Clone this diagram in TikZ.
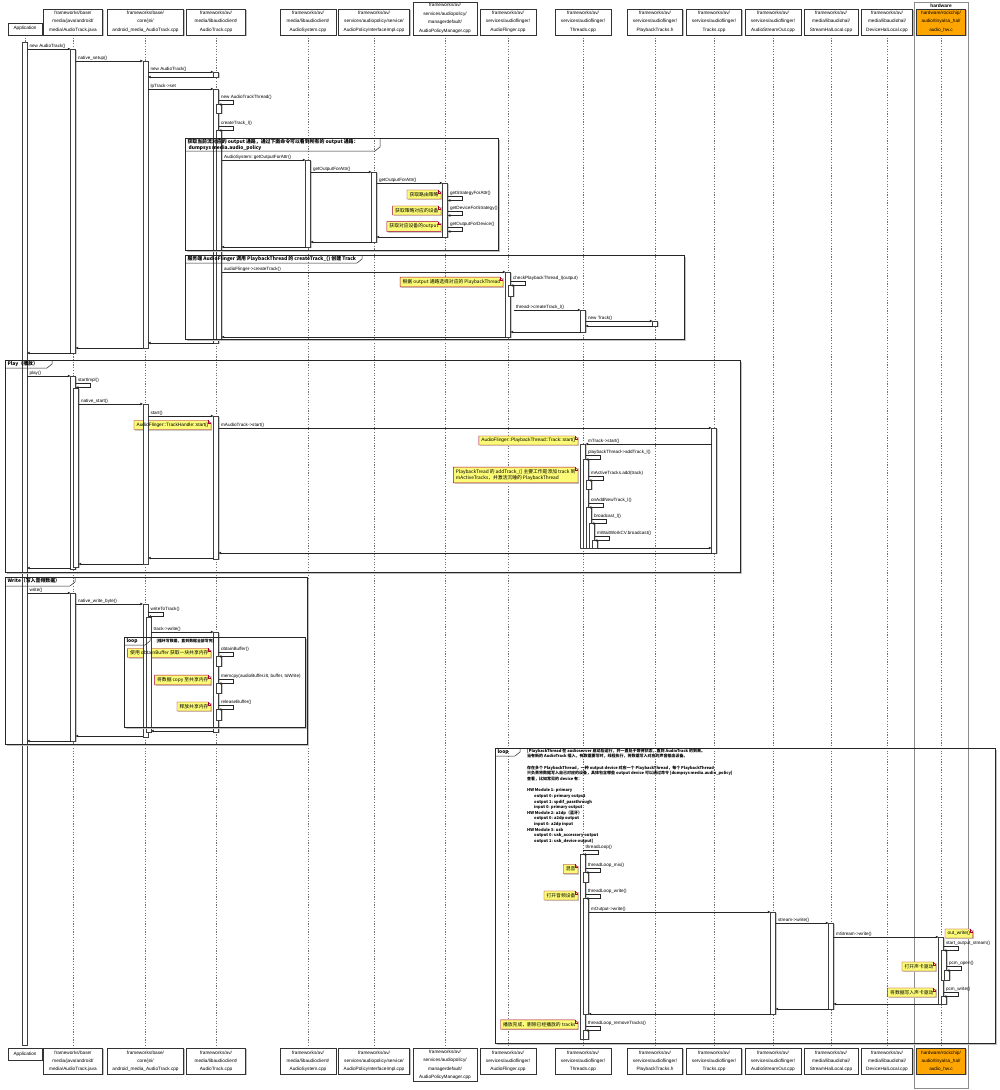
\documentclass[tikz,border=0pt]{standalone}
\usepackage{fontspec}
\setmainfont{Liberation Sans}
\newfontfamily\cjk{Noto Sans CJK SC}
\usetikzlibrary{arrows.meta,shadows}
\definecolor{noteY}{HTML}{FBFB77}
\definecolor{noteB}{HTML}{A80036}
\definecolor{hwO}{HTML}{FFA500}
\pgfdeclarelayer{back}
\pgfdeclarelayer{notebg}
\pgfsetlayers{back,notebg,main}
\newcommand\sqpart[6][]{%
  \node[hdr,#1,minimum width=#4pt,minimum height=#5pt,anchor=south] (h#2) at (#3,35) {#6};
  \node[hdr,#1,minimum width=#4pt,minimum height=#5pt,anchor=north] (f#2) at (#3,1048) {#6};
  \begin{pgfonlayer}{back}\draw[lifeline] (h#2.south) -- (f#2.north);\end{pgfonlayer}}
\newcommand\sqact[3]{%
  \fill[gray!40] (#1-1.5,#2+1) rectangle (#1+3.5,#3+1);
  \draw[actst] (#1-2.5,#2) rectangle (#1+2.5,#3);}
\newcommand\sqmsg[4]{%
  \draw[msgst] (#1,#3) -- (#2,#3);
  \node[lbl] at ({min(#1,#2)+2},#3) {#4};}
\newcommand\sqret[3]{\draw[msgst] (#1,#3) -- (#2,#3);}
\newcommand\sqself[3]{%
  \draw[msgst] (#1,#2) -- (#1+15,#2) -- (#1+15,#2+4.5) -- (#1+0.3,#2+4.5);
  \node[lbl] at (#1+2,#2) {#3};}
\newcommand\sqnote[4]{%
  \node[notetxt,anchor=#2] (#1) at (#3) {#4};
  \begin{pgfonlayer}{notebg}
  \fill[gray!40] ([shift={(1.2pt,-1.2pt)}]#1.south west) rectangle ([shift={(1.2pt,-1.2pt)}]#1.north east);
  \draw[notest] (#1.south west) -- (#1.north west) -- ([xshift=-3pt]#1.north east) -- ([yshift=-3pt]#1.north east) -- (#1.south east) -- cycle;
  \draw[notefold] ([xshift=-3pt]#1.north east) -- ([xshift=-3pt,yshift=-3pt]#1.north east) -- ([yshift=-3pt]#1.north east);
  \end{pgfonlayer}}
\newcommand\sqgrp[8]{%
  \draw[gray!50, line width=1.2pt] (#2+2,#5+1.4) -- (#4+1.4,#5+1.4) -- (#4+1.4,#3+2);
  \draw[grpst] (#2,#3) rectangle (#4,#5);
  \draw[grpst, line width=0.5pt] (#2,#7) -- (#6-5,#7) -- (#6,#7-4) -- (#6,#3);
  \node[grptitle] (#1) at (#2+2,#3+0.6) {#8};}
\begin{document}
\begin{tikzpicture}[x=1pt,y=-1pt,
  hdr/.style={draw=black!80, fill=white, line width=0.5pt, align=center, inner sep=0.5pt,
    font=\fontsize{4.7}{8.4}\selectfont,
    general shadow={fill=gray!50, shadow xshift=1.2pt, shadow yshift=-1.2pt}},
  lifeline/.style={draw=black!55, line width=0.4pt, dash pattern=on 1.2pt off 1.5pt},
  actst/.style={fill=white, draw=black!75, line width=0.4pt},
  msgst/.style={draw=black!85, line width=0.45pt, -{Triangle[length=2.6pt,width=2.4pt]}},
  lbl/.style={anchor=south west, inner sep=0.4pt, font=\fontsize{4.6}{5}\selectfont},
  notetxt/.style={inner xsep=2.4pt, inner ysep=2.1pt, align=left, font=\fontsize{4.8}{6}\selectfont},
  notest/.style={fill=noteY, draw=noteB, line width=0.4pt},
  notefold/.style={draw=noteB, line width=0.4pt},
  grpst/.style={draw=black!85, line width=0.9pt},
  grptitle/.style={anchor=north west, inner sep=0.3pt, align=left, font=\cjk\bfseries\fontsize{4.9}{6}\selectfont},
  loopcond/.style={anchor=north west, inner sep=0pt, align=left, font=\cjk\bfseries\fontsize{4.0}{5.65}\selectfont}]
\useasboundingbox (0,0) rectangle (1000,1090);
\begin{pgfonlayer}{back}
\fill[white] (0,0) rectangle (1000,1090);
\draw[draw=black!45, line width=0.5pt] (914,2) rectangle (968,1088);
\end{pgfonlayer}
\node[font=\bfseries\fontsize{4.8}{5}\selectfont, inner sep=0pt] (hwt) at (941,5.5) {hardware};
% participants
\sqpart{1}{25}{34}{12}{Application}
\sqpart{2}{73}{59}{26}{frameworks/base/\\media/java/android/\\media/AudioTrack.java}
\sqpart{3}{145.5}{76}{26}{frameworks/base/\\core/jni/\\android\_media\_AudioTrack.cpp}
\sqpart{4}{216}{59}{26}{frameworks/av/\\media/libaudioclient/\\AudioTrack.cpp}
\sqpart{5}{308}{56}{26}{frameworks/av/\\media/libaudioclient/\\AudioSystem.cpp}
\sqpart{6}{374}{71}{26}{frameworks/av/\\services/audiopolicy/service/\\AudioPolicyInterfaceImpl.cpp}
\sqpart{7}{445}{64}{33}{frameworks/av/\\services/audiopolicy/\\managerdefault/\\AudioPolicyManager.cpp}
\sqpart{8}{508}{56}{26}{frameworks/av/\\services/audioflinger/\\AudioFlinger.cpp}
\sqpart{9}{583}{56}{26}{frameworks/av/\\services/audioflinger/\\Threads.cpp}
\sqpart{10}{655}{55}{26}{frameworks/av/\\services/audioflinger/\\PlaybackTracks.h}
\sqpart{11}{714}{55}{26}{frameworks/av/\\services/audioflinger/\\Tracks.cpp}
\sqpart{12}{773}{56}{26}{frameworks/av/\\services/audioflinger/\\AudioStreamOut.cpp}
\sqpart{13}{831}{54}{26}{frameworks/av/\\media/libaudiohal/\\StreamHalLocal.cpp}
\sqpart{14}{887}{51}{26}{frameworks/av/\\media/libaudiohal/\\DeviceHalLocal.cpp}
\sqpart[fill=hwO]{15}{941}{49}{26}{hardware/rockchip/\\audio/tinyalsa\_hal/\\audio\_hw.c}
% activations
\sqact{24.5}{42}{1045}
\sqact{73}{49}{353}
\sqact{73}{376}{569}
\sqact{76}{388}{567}
\sqact{73}{593}{741}
\sqact{145.5}{61}{348}
\sqact{145.5}{404}{564}
\sqact{145.5}{604}{737}
\sqact{148.5}{617}{732}
\sqact{216}{72}{77}
\sqact{216}{89}{343}
\sqact{219}{104}{113}
\sqact{219}{130}{340}
\sqact{216}{416}{559}
\sqact{216}{632}{732}
\sqact{219}{656}{666}
\sqact{219}{683}{693}
\sqact{219}{709}{720}
\sqact{308}{160}{247}
\sqact{374}{172}{242}
\sqact{445}{183}{237}
\sqact{508}{272}{337}
\sqact{511}{285}{296}
\sqact{583}{310}{332}
\sqact{655}{321}{326}
\sqact{714}{428}{553}
\sqact{583}{444}{548}
\sqact{586}{459}{548}
\sqact{589}{480}{489}
\sqact{589}{507}{548}
\sqact{592}{523}{548}
\sqact{595}{540}{548}
\sqact{583}{854}{1039}
\sqact{586}{872}{882}
\sqact{586}{898}{1014}
\sqact{586}{1030}{1039}
\sqact{773}{912}{1014}
\sqact{831}{923}{1009}
\sqact{941}{937}{1004}
\sqact{944}{950}{980}
\sqact{947}{970}{980}
\sqact{944}{996}{1004}
% groups
\sqgrp{g1}{185}{138}{498}{250}{380}{151}{获取当前流对应的 output 通路，通过下面命令可以看到所有的 output 通路：\\\ dumpsys media.audio\_policy}
\sqgrp{g2}{185}{255}{684}{339}{362}{263}{服务端 AudioFlinger 调用 PlaybackThread 的 createTrack\_() 创建 Track}
\sqgrp{gp}{5}{360}{740}{572}{52}{368}{Play（播放）}
\sqgrp{gw}{5}{577}{307}{744}{75}{586}{Write（写入音频数据）}
\sqgrp{gl}{124}{637}{305}{727}{150}{645}{loop}
\node[grptitle, anchor=west, font=\cjk\bfseries\fontsize{3.9}{5}\selectfont] (glc) at (156,641) {[循环写数据，直到数据全部写完]};
\sqgrp{gb}{495}{748}{995}{1043}{520}{756}{loop}
\node[loopcond] (gbc) at (527,748.5) {[PlaybackThread 在 audioserver 启动后运行，并一直处于等待状态，直到 AudioTrack 的到来。\\
当有新的 AudioTrack 插入，有数据要写时，线程执行，将数据写入对应的声音输出设备。\\[5.65pt]
存在多个 PlaybackThread，一种 output device 对应一个 PlaybackThread，每个 PlaybackThread\\
只负责将数据写入自己对应的设备，具体包含哪些 output device 可以通过命令 [dumpsys media.audio\_policy]\\
查看，比如常见的 device 有：\\[5.65pt]
HW Module 1: primary\\
\hspace*{7pt}output 0: primary output\\
\hspace*{7pt}output 1: spdif\_passthrough\\
\hspace*{7pt}input 0: primary output\\
HW Module 2: a2dp（蓝牙）\\
\hspace*{7pt}output 0: a2dp output\\
\hspace*{7pt}input 0: a2dp input\\
HW Module 3: usb\\
\hspace*{7pt}output 0: usb\_accessory output\\
\hspace*{7pt}output 1: usb\_device output]};
% messages: create
\sqmsg{27}{70.5}{49}{new AudioTrack()}
\sqmsg{75.5}{143}{61}{native\_setup()}
\sqmsg{148}{213.5}{72}{new AudioTrack()}
\sqret{213.5}{148}{77}
\sqmsg{148}{213.5}{89}{lpTrack->set}
\sqself{218.5}{100}{new AudioTrackThread()}
\sqself{218.5}{126}{createTrack\_l()}
\sqmsg{221.5}{305.5}{160}{AudioSystem::getOutputForAttr()}
\sqmsg{310.5}{371.5}{172}{getOutputForAttr()}
\sqmsg{376.5}{442.5}{183}{getOutputForAttr()}
\sqself{447.5}{196}{getStrategyForAttr()}
\sqself{447.5}{211}{getDeviceForStrategy()}
\sqself{447.5}{227}{getOutputForDevice()}
\sqret{442.5}{376.5}{237}
\sqret{371.5}{310.5}{242}
\sqret{305.5}{221.5}{247}
\sqmsg{221.5}{505.5}{272}{audioFlinger->createTrack()}
\sqself{510.5}{281}{checkPlaybackThread\_l(output)}
\sqmsg{513.5}{580.5}{310}{thread->createTrack\_l()}
\sqmsg{585.5}{652.5}{321}{new Track()}
\sqret{652.5}{585.5}{326}
\sqret{580.5}{510.5}{332}
\sqret{505.5}{221.5}{337}
\sqret{213.5}{148}{343}
\sqret{143}{75.5}{348}
\sqret{70.5}{27}{353}
% play
\sqmsg{27}{70.5}{376}{play()}
\sqself{75.5}{383}{startImpl()}
\sqmsg{78.5}{143}{404}{native\_start()}
\sqmsg{148}{213.5}{416}{start()}
\sqmsg{218.5}{711.5}{428}{mAudioTrack->start()}
\sqmsg{711.5}{585.5}{444}{mTrack->start()}
\sqself{585.5}{455}{playbackThread->addTrack\_l()}
\sqself{588.5}{476}{mActiveTracks.add(track)}
\sqself{588.5}{503}{onAddNewTrack\_l()}
\sqself{591.5}{519}{broadcast\_l()}
\sqself{594.5}{536}{mWaitWorkCV.broadcast()}
\sqret{597.5}{711.5}{548}
\sqret{711.5}{218.5}{553}
\sqret{213.5}{148}{558}
\sqret{143}{78.5}{564}
\sqret{70.5}{27}{568}
% write
\sqmsg{27}{70.5}{593}{write()}
\sqmsg{75.5}{143}{604}{native\_write\_byte()}
\sqself{148}{612}{writeToTrack()}
\sqmsg{151}{213.5}{632}{track->write()}
\sqself{218.5}{652}{obtainBuffer()}
\sqself{218.5}{679}{memcpy(audioBuffer.i8, buffer, toWrite)}
\sqself{218.5}{705}{releaseBuffer()}
\sqret{213.5}{151}{731}
\sqret{143}{75.5}{736}
\sqret{70.5}{27}{741}
% thread loop
\sqself{583}{850}{threadLoop()}
\sqself{585.5}{868}{threadLoop\_mix()}
\sqself{585.5}{894}{threadLoop\_write()}
\sqmsg{588.5}{770.5}{912}{mOutput->write()}
\sqmsg{775.5}{828.5}{923}{stream->write()}
\sqmsg{833.5}{938.5}{937}{mStream->write()}
\sqself{943.5}{946}{start\_output\_stream()}
\sqself{946.5}{966}{pcm\_open()}
\sqself{943.5}{992}{pcm\_write()}
\sqret{938.5}{833.5}{1004}
\sqret{828.5}{775.5}{1009}
\sqret{770.5}{588.5}{1014}
\sqself{585.5}{1026}{threadLoop\_removeTracks()}
% notes
\sqnote{n1}{east}{441,194.5}{\cjk 获取路由策略}
\sqnote{n2}{east}{441,210.5}{\cjk 获取策略对应的设备}
\sqnote{n3}{east}{441,226.5}{\cjk 获取对应设备的output}
\sqnote{n4}{east}{503,282}{\cjk 根据 output 通路选择对应的 PlaybackThread}
\sqnote{n5}{east}{211,425}{AudioFlinger::TrackHandle::start()}
\sqnote{n6}{east}{578,440.5}{AudioFlinger::PlaybackThread::Track::start()}
\sqnote{n7}{east}{578,475}{\cjk PlaybackTread 的 addTrack\_() 主要工作是添加 track 到\\ \cjk mActiveTracks，并激活沉睡的 PlaybackThread}
\sqnote{n8}{east}{211,653}{\cjk 使用 obtainBuffer 获取一块共享内存}
\sqnote{n9}{east}{211,680}{\cjk 将数据 copy 至共享内存}
\sqnote{n10}{east}{211,706.5}{\cjk 释放共享内存}
\sqnote{n11}{east}{578,869}{\cjk 混音}
\sqnote{n12}{east}{578,895.5}{\cjk 打开音频设备}
\sqnote{n13}{west}{945,933.5}{out\_write()}
\sqnote{n14}{east}{936,966.5}{\cjk 打开声卡驱动}
\sqnote{n15}{east}{936,992.5}{\cjk 将数据写入声卡驱动}
\sqnote{n16}{east}{578,1024.5}{\cjk 播放完成，删除已经播放的 tracks}
\end{tikzpicture}
\end{document}
